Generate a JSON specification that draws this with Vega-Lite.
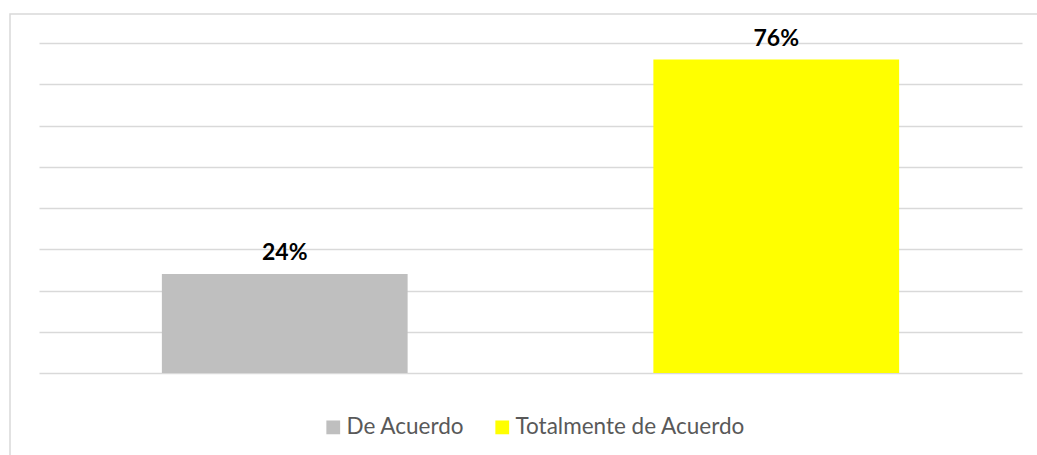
{
  "$schema": "https://vega.github.io/schema/vega-lite/v6.json",
  "width": 1030,
  "height": 445,
  "padding": {"left": 10, "top": 14, "right": 0, "bottom": 0},
  "autosize": {"type": "none"},
  "background": "white",
  "config": {
    "view": {"stroke": "#d9d9d9", "strokeWidth": 1.5},
    "font": "Lato"
  },
  "data": {
    "values": [
      {"respuesta": "De Acuerdo", "porcentaje": 0.24},
      {"respuesta": "Totalmente de Acuerdo", "porcentaje": 0.76}
    ]
  },
  "encoding": {
    "x": {
      "field": "respuesta",
      "type": "nominal",
      "sort": null,
      "scale": {"range": [29, 1012], "paddingInner": 0.5, "paddingOuter": 0.25},
      "axis": null
    },
    "y": {
      "field": "porcentaje",
      "type": "quantitative",
      "scale": {"domain": [0, 0.8], "range": [359, 29], "nice": false},
      "axis": {
        "values": [0, 0.1, 0.2, 0.3, 0.4, 0.5, 0.6, 0.7, 0.8],
        "labels": false,
        "ticks": false,
        "domain": false,
        "title": null,
        "grid": true,
        "gridColor": "#d9d9d9",
        "gridWidth": 1.5
      }
    }
  },
  "layer": [
    {
      "mark": {"type": "bar"},
      "encoding": {
        "color": {
          "field": "respuesta",
          "type": "nominal",
          "sort": null,
          "scale": {"range": ["#bfbfbf", "#ffff00"]},
          "legend": {
            "orient": "none",
            "legendX": 312,
            "legendY": 402,
            "direction": "horizontal",
            "title": null,
            "symbolType": "square",
            "symbolSize": 190,
            "symbolStrokeWidth": 0,
            "labelFontSize": 22.5,
            "labelColor": "#595959",
            "labelFont": "Lato",
            "labelOffset": 2,
            "labelLimit": 400,
            "columnPadding": 26,
            "padding": 0
          }
        }
      }
    },
    {
      "mark": {"type": "text", "baseline": "bottom", "dy": -9, "fontSize": 23, "fontWeight": "bold", "color": "black", "font": "Lato"},
      "encoding": {
        "text": {"field": "porcentaje", "type": "quantitative", "format": ".0%"}
      }
    }
  ]
}
